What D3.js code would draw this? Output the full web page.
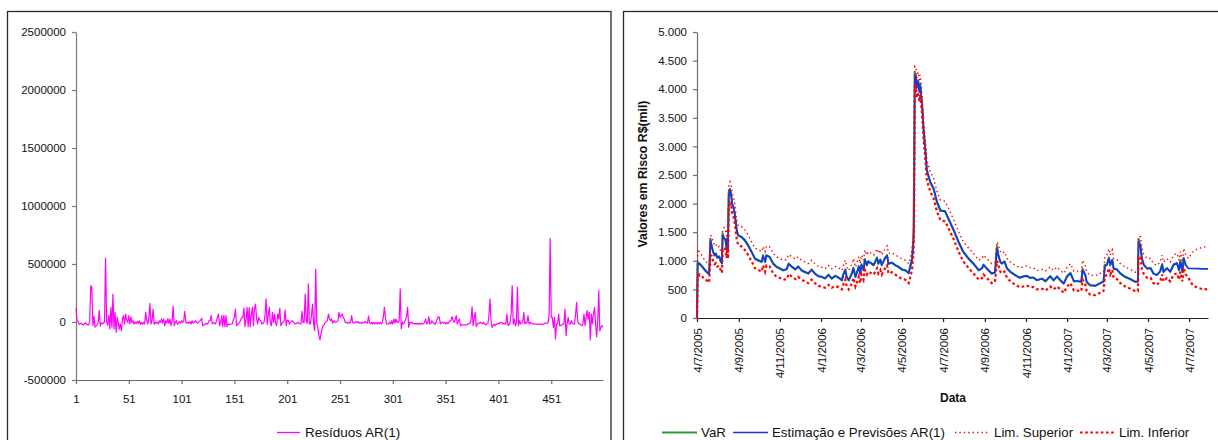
<!DOCTYPE html>
<html>
<head>
<meta charset="utf-8">
<script src="https://cdn.jsdelivr.net/npm/d3@7"></script>
<style>
  body { margin: 0; background: #fff; }
  svg { display: block; }
  text { font-family: "Liberation Sans", Arial, sans-serif; fill: #111; }
</style>
</head>
<body>
<svg id="chart" width="1218" height="440"></svg>
<script>
// ---------- Resíduos AR(1) (observações 1..500) ----------
const residuos = [
  120000, 10000, 5000, -20000, -15000, -10000, -20000, -25000, -15000, -5000,
  -20000, -25000, -25000, 10000, 313000, 300000, -30000, 50000, -45000, -35000,
  -25000, -5000, 98000, -35000, -5000, -15000, -10000, 0, 550000, 10000,
  -30000, 55000, -60000, 126000, -45000, 241000, -60000, 83000, -89000, 40000,
  -3000, -60000, -17000, -75000, 26000, 55000, -17000, 69000, 15000, -3000,
  55000, -17000, 45000, -3000, 11000, -17000, 0, -15000, 5000, -10000,
  11000, -20000, -3000, -20000, -3000, -17000, 83000, 11000, -17000, 40000,
  160000, -17000, 11000, 112000, -20000, -3000, -10000, -3000, -17000, 11000,
  -3000, 26000, -10000, 26000, -32000, 11000, -10000, 30000, -15000, 26000,
  -32000, 11000, 135000, -32000, -3000, 11000, -20000, -10000, 3000, -10000,
  11000, -3000, 11000, 92000, -3000, -10000, -3000, -10000, 3000, -17000,
  11000, -10000, -3000, 11000, -3000, -10000, -3000, 5000, 17000, 32000,
  -32000, -25000, -20000, -10000, -20000, -10000, 11000, 11000, 55000, -17000,
  -5000, -10000, -17000, 11000, 40000, 69000, -32000, -3000, 55000, -40000,
  55000, -40000, 55000, -40000, -17000, -20000, -20000, -17000, -15000, 20000,
  40000, 112000, -32000, -25000, -10000, -3000, 20000, 40000, 40000, 120000,
  -40000, 20000, 126000, -40000, 126000, -40000, 60000, 126000, -32000, 112000,
  155000, 30000, -17000, 40000, 15000, 11000, -17000, -10000, -3000, 60000,
  198000, -20000, 55000, 126000, -10000, -32000, 83000, -3000, 69000, -10000,
  -32000, 69000, 26000, 118000, -32000, -10000, -3000, 11000, 103000, -32000,
  17000, 17000, -20000, -3000, 5000, 11000, -3000, -10000, -17000, -10000,
  -3000, -10000, -15000, -17000, 92000, -3000, -3000, 241000, 10000, -10000,
  328000, -17000, -17000, 60000, 155000, -17000, -75000, 457000, -17000, -46000,
  -118000, -155000, -103000, -60000, -30000, -23000, -3000, 5000, 11000, 69000,
  30000, 11000, 26000, -10000, 11000, 0, -3000, 5000, 11000, 83000,
  40000, 55000, 69000, 40000, 26000, -3000, -3000, -10000, -3000, -10000,
  -3000, 55000, -3000, -10000, -3000, 5000, -5000, 3000, -10000, -5000,
  -10000, -3000, -10000, -5000, 5000, -5000, -10000, 50000, -3000, -17000,
  -3000, -17000, -3000, -17000, -3000, -17000, -3000, -17000, -3000, -17000,
  -3000, 40000, 126000, 40000, -17000, -17000, -17000, -3000, -17000, 11000,
  -17000, 26000, -10000, 26000, -3000, -3000, 10000, 285000, -60000, -3000,
  -17000, -3000, 20000, 50000, 126000, -46000, -3000, -10000, -3000, -10000,
  -17000, -10000, -17000, -10000, -20000, -10000, -20000, -10000, -17000, -15000,
  -3000, 26000, -17000, -10000, 46000, -17000, -10000, 11000, -3000, -10000,
  -20000, -3000, 26000, 46000, 40000, -17000, -3000, -3000, -10000, -3000,
  -17000, -3000, -17000, -3000, 11000, 11000, 46000, 20000, -3000, 20000,
  55000, -17000, 11000, 26000, -32000, -25000, -25000, -25000, -25000, -25000,
  -25000, -17000, -17000, -10000, 11000, 132000, -32000, 26000, 83000, -40000,
  -17000, -10000, -10000, -3000, -10000, -17000, -3000, -17000, -25000, -17000,
  -15000, 55000, 198000, 11000, -46000, -30000, -17000, -32000, -17000, -17000,
  -10000, -17000, -3000, -3000, -17000, -10000, -17000, -17000, 69000, -30000,
  -25000, -3000, 69000, 313000, -17000, 26000, -32000, -10000, 300000, -32000,
  11000, -17000, -10000, -3000, 83000, -17000, -3000, -10000, 55000, -17000,
  -3000, -10000, -10000, -17000, -17000, -17000, -20000, -17000, -20000, -17000,
  -20000, -17000, -20000, -17000, -10000, -10000, -10000, -3000, 55000, 720000,
  40000, 40000, -46000, 40000, -147000, -17000, -17000, 69000, -32000, -32000,
  -25000, -17000, -17000, 112000, -118000, -17000, 40000, -17000, -17000, 11000,
  -10000, -17000, -17000, 60000, 170000, 11000, -17000, -17000, -25000, -32000,
  -17000, 69000, -32000, 40000, 98000, 26000, 83000, -155000, 69000, -17000,
  69000, 126000, -20000, -126000, 11000, 270000, -75000, -46000, -32000, -46000
];
const residuosTicksX = [1, 51, 101, 151, 201, 251, 301, 351, 401, 451];
const residuosTicksY = [-500000, 0, 500000, 1000000, 1500000, 2000000, 2500000];

// ---------- Valores em Risco (R$ mil) ----------
const datas = [
  "2005-07-04","2005-07-05","2005-07-08","2005-07-12","2005-07-16","2005-07-20","2005-07-22","2005-07-24","2005-07-26","2005-07-28",
  "2005-07-30","2005-08-01","2005-08-03","2005-08-06","2005-08-08","2005-08-10","2005-08-11","2005-08-13","2005-08-15","2005-08-17",
  "2005-08-18","2005-08-19","2005-08-20","2005-08-22","2005-08-24","2005-08-25","2005-08-27","2005-08-29","2005-09-01","2005-09-03",
  "2005-09-08","2005-09-13","2005-09-18","2005-09-23","2005-09-28","2005-10-03","2005-10-08","2005-10-10","2005-10-13","2005-10-15",
  "2005-10-20","2005-10-25","2005-10-30","2005-11-04","2005-11-09","2005-11-14","2005-11-17","2005-11-22","2005-11-27","2005-12-01",
  "2005-12-06","2005-12-11","2005-12-16","2005-12-21","2005-12-26","2005-12-31","2006-01-05","2006-01-10","2006-01-15","2006-01-20",
  "2006-01-25","2006-01-30","2006-02-04","2006-02-06","2006-02-09","2006-02-11","2006-02-14","2006-02-19","2006-02-21","2006-02-24",
  "2006-02-26","2006-03-01","2006-03-03","2006-03-05","2006-03-08","2006-03-10","2006-03-13","2006-03-15","2006-03-20","2006-03-23",
  "2006-03-28","2006-03-30","2006-04-02","2006-04-04","2006-04-09","2006-04-12","2006-04-14","2006-04-19","2006-04-24","2006-04-29",
  "2006-05-04","2006-05-09","2006-05-14","2006-05-16","2006-05-19","2006-05-21","2006-05-22","2006-05-23","2006-05-25","2006-05-26",
  "2006-05-28","2006-05-30","2006-05-31","2006-06-03","2006-06-05","2006-06-08","2006-06-10","2006-06-15","2006-06-20","2006-06-25",
  "2006-06-30","2006-07-07","2006-07-12","2006-07-20","2006-07-27","2006-08-03","2006-08-11","2006-08-18","2006-08-26","2006-08-31",
  "2006-09-02","2006-09-07","2006-09-14","2006-09-19","2006-09-22","2006-09-24","2006-09-27","2006-09-29","2006-10-03","2006-10-07",
  "2006-10-12","2006-10-19","2006-10-26","2006-10-31","2006-11-05","2006-11-10","2006-11-15","2006-11-20","2006-11-28","2006-12-03",
  "2006-12-10","2006-12-15","2006-12-20","2006-12-25","2006-12-30","2007-01-04","2007-01-09","2007-01-14","2007-01-19","2007-01-25",
  "2007-01-27","2007-01-31","2007-02-02","2007-02-07","2007-02-15","2007-02-22","2007-02-27","2007-03-01","2007-03-04","2007-03-07",
  "2007-03-09","2007-03-12","2007-03-14","2007-03-19","2007-03-24","2007-03-31","2007-04-08","2007-04-15","2007-04-19","2007-04-20",
  "2007-04-23","2007-04-25","2007-04-28","2007-05-03","2007-05-08","2007-05-12","2007-05-17","2007-05-22","2007-05-25","2007-05-27",
  "2007-06-01","2007-06-06","2007-06-11","2007-06-16","2007-06-19","2007-06-21","2007-06-24","2007-06-26","2007-06-29","2007-07-03",
  "2007-07-09","2007-07-16","2007-07-24","2007-08-01"
];
const valorVaR = [
  0, 980, 940, 890, 830, 780, 780, 1380, 1230, 1150,
  1090, 1120, 1050, 1070, 990, 960, 1480, 1390, 1370, 1210,
  1400, 1190, 2200, 2260, 2110, 1990, 1930, 1810, 1520, 1440,
  1410, 1350, 1260, 1150, 1030, 1000, 980, 1100, 975, 1100,
  1060, 945, 890, 860, 830, 860, 955, 890, 845, 905,
  830, 800, 775, 850, 770, 725, 715, 690, 760, 685,
  740, 700, 655, 770, 850, 715, 655, 790, 880, 715,
  790, 910, 775, 940, 830, 1030, 920, 995, 945, 920,
  1060, 945, 1025, 920, 1055, 1100, 945, 965, 920, 890,
  845, 830, 790, 900, 1050, 1400, 2500, 4300, 4200, 4050,
  4150, 3950, 4100, 3700, 3300, 2880, 2570, 2370, 2250, 2020,
  1870, 1870, 1730, 1520, 1320, 1150, 1030, 945, 830, 875,
  935, 860, 775, 790, 1260, 1090, 980, 950, 990, 860,
  800, 745, 700, 730, 735, 700, 710, 660, 690, 640,
  735, 655, 730, 655, 600, 735, 790, 640, 645, 630,
  860, 745, 625, 570, 560, 610, 640, 930, 935, 1060,
  920, 1020, 860, 845, 775, 715, 675, 630, 640, 1380,
  1230, 1030, 920, 860, 875, 775, 750, 820, 945, 800,
  875, 805, 940, 960, 830, 1010, 800, 1050, 915, null,
  null, null, null, null
];
const estimacao = [
  0, 960, 950, 900, 840, 790, 770, 1360, 1250, 1160,
  1100, 1130, 1060, 1080, 1000, 950, 1450, 1400, 1380, 1220,
  1390, 1200, 2120, 2240, 2120, 2005, 1946, 1830, 1538, 1451,
  1422, 1364, 1276, 1160, 1043, 1014, 985, 1084, 985, 1090,
  1070, 955, 897, 868, 839, 850, 944, 897, 853, 897,
  839, 810, 781, 839, 781, 734, 723, 694, 752, 694,
  734, 710, 664, 752, 839, 723, 664, 781, 868, 723,
  781, 897, 781, 927, 839, 1014, 927, 985, 955, 927,
  1043, 955, 1014, 927, 1043, 1090, 955, 970, 927, 897,
  853, 839, 781, 868, 1014, 1305, 1700, 4250, 4220, 4016,
  4131, 3957, 4073, 3724, 3316, 2907, 2587, 2383, 2267, 2034,
  1888, 1859, 1743, 1538, 1334, 1160, 1043, 955, 839, 868,
  927, 868, 781, 800, 1218, 1100, 985, 955, 985, 868,
  810, 752, 705, 723, 740, 705, 705, 664, 682, 647,
  723, 664, 723, 664, 606, 723, 781, 647, 647, 635,
  839, 752, 635, 577, 565, 606, 635, 897, 927, 1043,
  927, 1014, 868, 850, 781, 723, 682, 635, 635, 1334,
  1247, 1043, 927, 868, 868, 781, 752, 810, 927, 810,
  868, 810, 927, 955, 839, 985, 810, 1043, 927, 868,
  865, 862, 860, 858
];
const limSuperior = [
  0, 1200, 1150, 1080, 1000, 950, 920, 1450, 1420, 1330,
  1280, 1300, 1230, 1250, 1170, 1120, 1520, 1580, 1560, 1400,
  1560, 1380, 2300, 2380, 2300, 2180, 2120, 2000, 1710, 1620,
  1600, 1540, 1450, 1330, 1220, 1190, 1160, 1250, 1160, 1260,
  1240, 1130, 1070, 1040, 1010, 1020, 1110, 1070, 1030, 1070,
  1010, 980, 950, 1010, 950, 900, 890, 860, 920, 860,
  900, 880, 830, 920, 1010, 890, 830, 950, 1040, 890,
  950, 1070, 950, 1100, 1010, 1190, 1100, 1160, 1130, 1100,
  1210, 1130, 1190, 1100, 1210, 1260, 1130, 1140, 1100, 1070,
  1030, 1010, 950, 1040, 1190, 1480, 1900, 4400, 4380, 4200,
  4300, 4130, 4250, 3900, 3500, 3080, 2760, 2560, 2440, 2210,
  2060, 2040, 1920, 1710, 1510, 1330, 1220, 1130, 1010, 1040,
  1100, 1040, 950, 970, 1330, 1280, 1160, 1130, 1160, 1040,
  980, 920, 880, 890, 910, 880, 880, 830, 850, 820,
  890, 830, 890, 830, 780, 890, 950, 820, 820, 800,
  1010, 920, 800, 750, 740, 780, 800, 1070, 1100, 1210,
  1100, 1190, 1040, 1020, 950, 890, 850, 800, 800, 1420,
  1420, 1220, 1100, 1040, 1040, 950, 920, 980, 1100, 980,
  1040, 980, 1100, 1130, 1010, 1160, 980, 1220, 1100, 1040,
  1150, 1210, 1235, 1250
];
const limInferior = [
  0, 700, 760, 720, 680, 640, 620, 1100, 1080, 1000,
  940, 960, 900, 910, 840, 790, 1200, 1230, 1210, 1050,
  1220, 1040, 1900, 2000, 1950, 1830, 1780, 1660, 1370, 1280,
  1250, 1190, 1100, 990, 870, 840, 810, 920, 810, 920,
  900, 780, 720, 700, 670, 680, 770, 720, 680, 720,
  670, 640, 610, 670, 610, 560, 550, 530, 580, 530,
  560, 540, 500, 580, 670, 550, 500, 610, 700, 550,
  610, 720, 610, 760, 670, 840, 760, 810, 780, 760,
  870, 780, 840, 760, 870, 920, 780, 800, 760, 720,
  680, 670, 610, 700, 840, 1130, 1500, 4050, 4050, 3850,
  3950, 3780, 3900, 3550, 3150, 2730, 2410, 2210, 2090, 1860,
  1710, 1690, 1570, 1370, 1160, 990, 870, 780, 670, 700,
  760, 700, 610, 630, 1000, 930, 810, 780, 810, 700,
  640, 580, 540, 550, 570, 540, 540, 500, 510, 480,
  550, 500, 550, 500, 440, 550, 610, 480, 480, 470,
  670, 580, 470, 410, 400, 440, 470, 720, 760, 870,
  760, 840, 700, 680, 610, 550, 510, 470, 470, 1050,
  1080, 870, 760, 700, 700, 610, 580, 640, 760, 640,
  700, 640, 760, 780, 670, 810, 640, 870, 760, 700,
  580, 530, 505, 500
];
const datasTicks = [
  "2005-07-04","2005-09-04","2005-11-04","2006-01-04","2006-03-04","2006-05-04","2006-07-04",
  "2006-09-04","2006-11-04","2007-01-04","2007-03-04","2007-05-04","2007-07-04"
];
const valoresTicks = [0, 500, 1000, 1500, 2000, 2500, 3000, 3500, 4000, 4500, 5000];

// ---------- drawing ----------
const svg = d3.select("#chart");
const parse = d3.timeParse("%Y-%m-%d");
const fmtData = d3.timeFormat("%-d/%-m/%Y");
const br = d3.formatLocale({ decimal: ",", thousands: ".", grouping: [3], currency: ["R$", ""] });
const fmtMil = br.format(",d");
const tickFont = 11.5;

function styleAxis(g, color) {
  g.select(".domain").attr("stroke", color).attr("stroke-width", 1.2);
  g.selectAll(".tick line").attr("stroke", color).attr("stroke-width", 1.2);
  g.selectAll(".tick text").attr("font-size", tickFont).attr("fill", "#111")
    .attr("font-family", "'Liberation Sans', Arial, sans-serif");
}

// panel frames
svg.append("rect").attr("x", 7.5).attr("y", 11.5).attr("width", 603.5).attr("height", 450)
  .attr("fill", "none").attr("stroke", "#2a2a2a").attr("stroke-width", 1.3);
svg.append("rect").attr("x", 623.5).attr("y", 11.5).attr("width", 620).attr("height", 450)
  .attr("fill", "none").attr("stroke", "#2a2a2a").attr("stroke-width", 1.3);

// ---- left panel ----
const xR = d3.scaleLinear().domain([1, residuos.length]).range([76, 603]);
const yR = d3.scaleLinear().domain([-500000, 2500000]).range([380, 32]);

svg.append("g").attr("transform", "translate(0,380)")
  .call(d3.axisBottom(xR).tickValues(residuosTicksX).tickSize(4).tickSizeOuter(0).tickPadding(11)
    .tickFormat(d => String(d)))
  .call(g => styleAxis(g, "#6e6e6e"));
svg.append("g").attr("transform", "translate(76,0)")
  .call(d3.axisLeft(yR).tickValues(residuosTicksY).tickSize(4).tickSizeOuter(0).tickPadding(6)
    .tickFormat(d => String(d)))
  .call(g => styleAxis(g, "#7a7a7a"));

svg.append("path")
  .datum(residuos)
  .attr("fill", "none").attr("stroke", "#ff00ff").attr("stroke-width", 1.2)
  .attr("stroke-linejoin", "round")
  .attr("d", d3.line().x((d, i) => xR(i + 1)).y(d => yR(d)));

// legend left
svg.append("line").attr("x1", 277).attr("x2", 300).attr("y1", 432.5).attr("y2", 432.5)
  .attr("stroke", "#ff00ff").attr("stroke-width", 1.3);
svg.append("text").attr("x", 305).attr("y", 437.3).attr("font-size", 13.5).text("Resíduos AR(1)");

// ---- right panel ----
const dts = datas.map(parse);
const xT = d3.scaleTime().domain([parse("2005-07-04"), parse("2007-08-01")]).range([697, 1208]);
const yV = d3.scaleLinear().domain([0, 5000]).range([318, 32]);

svg.append("g").attr("transform", "translate(0,318)")
  .call(d3.axisBottom(xT).tickValues(datasTicks.map(parse)).tickSize(4).tickSizeOuter(0)
    .tickFormat(fmtData))
  .call(g => styleAxis(g, "#222"))
  .call(g => g.selectAll(".tick text")
    .attr("transform", "rotate(-90)")
    .attr("text-anchor", "end")
    .attr("x", -10).attr("y", 0).attr("dy", "0.35em"));
svg.append("g").attr("transform", "translate(697,0)")
  .call(d3.axisLeft(yV).tickValues(valoresTicks).tickSize(4).tickSizeOuter(0).tickPadding(6)
    .tickFormat(fmtMil))
  .call(g => styleAxis(g, "#6e6e6e"));

const linha = arr => d3.line()
  .defined((d, i) => arr[i] !== null)
  .x((d, i) => xT(dts[i]))
  .y((d, i) => yV(arr[i]))(arr);

svg.append("path").attr("d", linha(valorVaR))
  .attr("fill", "none").attr("stroke", "#2f9a2f").attr("stroke-width", 2).attr("stroke-linejoin", "round");
svg.append("path").attr("d", linha(estimacao))
  .attr("fill", "none").attr("stroke", "#1535e6").attr("stroke-width", 1.7).attr("stroke-linejoin", "round");
svg.append("path").attr("d", linha(limSuperior))
  .attr("fill", "none").attr("stroke", "#ff0000").attr("stroke-width", 1.4)
  .attr("stroke-dasharray", "1.4 3");
svg.append("path").attr("d", linha(limInferior))
  .attr("fill", "none").attr("stroke", "#ff0000").attr("stroke-width", 2.2)
  .attr("stroke-dasharray", "2.6 2.6");

// axis titles
svg.append("text")
  .attr("transform", "translate(647,174) rotate(-90)")
  .attr("text-anchor", "middle").attr("font-size", 12.3).attr("font-weight", "bold")
  .text("Valores em Risco R$(mil)");
svg.append("text").attr("x", 953).attr("y", 402).attr("text-anchor", "middle")
  .attr("font-size", 12).attr("font-weight", "bold").text("Data");

// legend right
const legenda = [
  { x: 662, nome: "VaR", cor: "#2f9a2f", w: 2, dash: null },
  { x: 733, nome: "Estimação e Previsões AR(1)", cor: "#1535e6", w: 1.7, dash: null },
  { x: 955, nome: "Lim. Superior", cor: "#ff0000", w: 1.4, dash: "1.4 3" },
  { x: 1080, nome: "Lim. Inferior", cor: "#ff0000", w: 2.2, dash: "2.6 2.6" }
];
legenda.forEach(l => {
  svg.append("line").attr("x1", l.x).attr("x2", l.x + 35).attr("y1", 432.5).attr("y2", 432.5)
    .attr("stroke", l.cor).attr("stroke-width", l.w).attr("stroke-dasharray", l.dash);
  svg.append("text").attr("x", l.x + 39).attr("y", 437.2).attr("font-size", 13.3).text(l.nome);
});
</script>
</body>
</html>
